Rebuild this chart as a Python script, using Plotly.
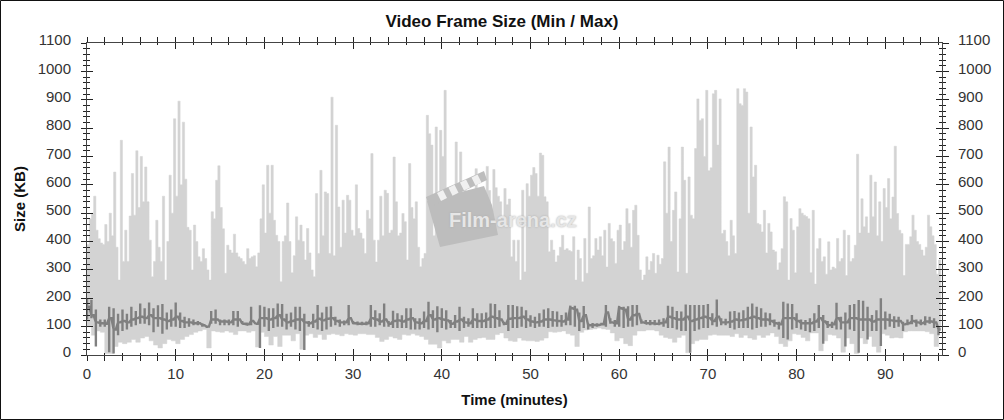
import plotly.graph_objects as go

TITLE = "Video Frame Size (Min / Max)"
X_TITLE = "Time (minutes)"
Y_TITLE = "Size (KB)"
WATERMARK = "Film-arena.cz"

# upper edge of the light band, one reading per quarter minute
size_max = [
    390,480,500,560,440,410,395,390,460,400,500,420,645,380,264,757,330,440,330,490,
    640,493,720,520,700,540,663,540,405,276,330,475,380,330,560,264,400,634,500,833,
    560,895,600,821,620,450,440,300,458,400,346,330,375,340,300,264,505,480,616,667,
    520,445,288,387,370,360,426,360,346,340,330,320,375,340,346,350,311,360,480,600,
    430,669,500,669,475,422,400,258,400,420,536,400,290,350,487,405,458,400,335,446,
    360,300,276,569,358,651,420,575,569,358,909,350,810,522,380,546,430,563,546,440,
    420,600,446,430,410,358,510,480,710,405,328,405,560,420,581,570,430,440,698,540,
    420,430,499,470,335,675,520,480,540,380,311,340,358,845,780,740,420,804,560,792,
    700,933,590,550,500,430,751,590,716,520,580,520,581,560,570,657,560,540,530,510,
    665,580,470,654,590,560,540,480,587,530,550,346,405,330,405,264,581,293,604,560,
    634,661,640,560,712,704,558,540,364,405,370,328,350,380,422,370,375,368,365,417,
    264,370,340,258,411,288,522,340,350,411,370,417,350,440,310,464,410,400,323,440,
    458,370,400,516,464,380,510,528,422,300,264,282,346,300,330,358,288,352,320,340,
    681,500,733,400,510,575,293,480,733,616,288,628,493,480,728,903,827,833,700,933,
    650,660,921,933,740,903,428,440,400,350,475,420,358,939,886,880,939,927,500,804,
    628,669,464,460,434,510,360,464,434,370,364,300,325,375,558,540,264,481,440,290,
    452,516,500,493,488,480,290,510,250,375,411,330,346,285,399,300,310,305,411,330,
    340,440,280,422,330,340,387,708,430,551,452,487,430,634,487,610,420,540,400,587,
    520,622,480,557,736,499,440,428,280,390,390,417,493,440,400,390,370,350,380,493,
    452,420,390,285,335,90,
]

# lower edge of the light band, one reading per half minute
size_low = [
    100,100,70,85,80,5,5,30,45,40,
    45,55,45,60,65,50,35,25,40,55,
    50,40,55,65,72,80,85,90,25,85,
    82,80,85,80,72,85,85,80,85,28,
    80,65,35,65,30,70,70,50,75,20,
    70,75,62,72,55,72,75,72,68,75,
    72,70,75,75,72,72,62,48,55,65,
    60,55,72,70,75,70,65,55,38,38,
    25,50,42,55,55,45,65,45,55,60,
    62,55,55,72,78,60,50,48,60,52,
    50,50,48,52,60,82,80,82,85,75,
    70,30,80,88,90,92,95,92,90,78,
    50,60,40,33,70,85,85,88,88,85,
    70,62,58,45,62,70,8,40,50,55,
    55,70,72,70,70,70,65,75,62,70,
    60,55,70,62,70,78,65,40,30,50,
    75,72,62,50,78,78,15,50,72,70,
    60,10,60,40,5,60,40,65,30,10,
    75,70,60,62,60,82,85,85,85,85,
    82,75,30,
]

# dark line: top of its spikes, bottom of its spikes and its usual level, per half minute
dark_hi = [
    200,195,160,125,125,170,165,145,160,145,
    170,155,182,165,185,165,175,180,150,160,
    185,150,135,130,125,120,112,102,155,160,
    125,125,125,155,155,120,115,170,115,175,
    170,165,165,182,180,145,150,170,170,145,
    120,145,176,150,170,172,135,125,122,176,
    120,118,117,118,176,158,147,182,120,156,
    147,140,165,165,130,130,153,188,158,172,
    165,158,123,141,170,135,130,165,147,147,
    150,182,180,158,117,176,176,172,170,158,
    140,135,147,160,165,155,153,141,150,174,
    174,150,173,112,113,112,114,176,130,123,
    173,170,172,176,176,125,123,123,123,125,
    130,174,170,155,153,178,176,176,176,176,
    180,147,196,130,128,153,155,150,158,170,
    182,170,165,150,147,125,117,188,182,180,
    147,125,123,130,147,176,141,120,117,184,
    135,150,176,180,194,191,170,141,158,200,
    153,145,137,135,117,125,141,125,125,137,
    135,130,100,
]
dark_lo = [
    125,130,30,100,100,10,5,70,85,90,
    100,105,110,110,105,80,100,75,90,100,
    100,95,95,100,105,105,100,95,110,110,
    105,105,105,105,100,108,105,105,108,25,
    100,85,95,100,100,90,100,90,85,18,
    100,95,90,85,90,100,105,100,105,105,
    108,105,105,105,100,100,105,100,100,95,
    95,95,95,90,90,90,95,90,95,80,
    95,90,95,95,85,95,100,95,95,95,
    95,95,95,100,105,85,95,95,100,95,
    100,95,100,100,95,100,100,100,105,105,
    100,85,95,90,95,100,105,100,110,100,
    100,95,100,100,105,110,110,105,105,105,
    100,95,95,90,85,85,8,85,90,95,
    95,105,100,105,105,95,90,95,95,95,
    90,95,100,100,105,100,90,60,55,90,
    95,90,85,80,85,95,40,95,95,90,
    90,30,90,85,8,85,55,85,85,32,
    90,100,95,100,85,105,108,100,105,105,
    110,95,70,
]
dark_core = [
    170,140,115,112,110,130,90,115,120,115,
    125,130,135,130,140,130,130,125,120,125,
    135,120,115,115,112,112,105,100,125,125,
    118,118,115,125,125,110,108,120,110,130,
    130,125,130,140,125,115,120,125,125,115,
    112,118,128,122,128,130,120,115,115,130,
    112,110,110,112,130,125,118,125,110,120,
    122,118,125,130,115,112,120,140,125,130,
    125,122,110,118,125,115,112,125,120,120,
    125,135,130,125,110,128,130,130,135,125,
    118,115,118,125,125,122,120,118,125,165,
    160,120,140,105,106,106,108,150,115,112,
    165,160,125,140,145,115,112,112,110,112,
    115,135,130,125,125,135,120,125,130,135,
    130,120,135,115,115,118,125,122,125,130,
    135,130,125,125,120,112,108,130,130,130,
    120,112,112,112,118,130,118,105,108,130,
    115,115,130,130,125,125,125,118,125,125,
    125,122,120,120,108,112,120,115,112,118,
    118,115,90,
]

time_q = [i / 4 for i in range(len(size_max))]
time_h = [i / 2 for i in range(len(size_low))]

# the dark line walks along its usual level and makes one spike up and down per reading
dark_x, dark_y = [], []
for t, lo, hi, core in zip(time_h, dark_lo, dark_hi, dark_core):
    dark_x += [t, t, t, t, t + 0.25]
    dark_y += [core, hi, lo, core, core]

W, H = 1004, 420
L, R, T, B = 87, 62, 43, 65
PW, PH = W - L - R, H - T - B
XMAX = 855 / 8.87
GREY = "#d3d3d3"
DARK = "#808080"
INK = "#333333"
FONT = "Liberation Sans, Arial, sans-serif"


def px(x):
    return (x - L) / PW


def py(y):
    return 1 - (y - T) / PH


def poly(points):
    return "M " + " L ".join(f"{px(a):.5f},{py(b):.5f}" for a, b in points) + " Z"


fig = go.Figure()
fig.add_trace(go.Scatter(
    x=time_q + time_h[::-1], y=size_max + size_low[::-1],
    fill="toself", fillcolor=GREY, mode="lines",
    line=dict(color=GREY, width=0.5, shape="hv"), hoverinfo="skip", showlegend=False,
))
fig.add_trace(go.Scatter(
    x=dark_x, y=dark_y, mode="lines",
    line=dict(color=DARK, width=2.4), hoverinfo="skip", showlegend=False,
))
for xa, ya in (("x", "y2"), ("x2", "y3")):
    fig.add_trace(go.Scatter(x=[None], y=[None], xaxis=xa, yaxis=ya,
                             showlegend=False, hoverinfo="skip"))

x_common = dict(range=[0, XMAX], dtick=10, tick0=0, showgrid=False, zeroline=False,
                showline=True, linecolor="#444444", linewidth=1, tickcolor="#222222")
y_common = dict(range=[0, 1100], dtick=100, tick0=0, showgrid=False, zeroline=False,
                showline=True, linecolor="#444444", linewidth=1, tickcolor="#222222")
tfont = dict(family=FONT, size=15, color=INK)

fig.update_layout(
    width=W, height=H, autosize=False,
    margin=dict(l=L, r=R, t=T, b=B, pad=0),
    paper_bgcolor="white", plot_bgcolor="white", showlegend=False,
    title=dict(text=f"<b>{TITLE}</b>", x=502 / W, xanchor="center", y=1 - 21 / H,
               yanchor="middle", font=dict(family=FONT, size=17, color="#111111")),
    xaxis=dict(**x_common, ticks="outside", ticklen=5, mirror="allticks",
               minor=dict(dtick=2, ticks="outside", ticklen=3, tickcolor="#222222"),
               tickfont=tfont, ticklabelstandoff=0,
               title=dict(text=f"<b>{X_TITLE}</b>", standoff=13,
                          font=dict(family=FONT, size=15, color="#111111"))),
    xaxis2=dict(**x_common, overlaying="x", anchor="y", side="bottom", ticks="inside",
                ticklen=6, mirror="allticks", showticklabels=False,
                minor=dict(dtick=2, ticks="inside", ticklen=2, tickcolor="#222222")),
    yaxis=dict(**y_common, ticks="outside", ticklen=5,
               minor=dict(dtick=20, ticks="outside", ticklen=3, tickcolor="#222222"),
               tickfont=tfont, ticklabelstandoff=7, ticklabelshift=-3,
               title=dict(text=f"<b>{Y_TITLE}</b>", standoff=8,
                          font=dict(family=FONT, size=15, color="#111111"))),
    yaxis2=dict(**y_common, overlaying="y", anchor="x", side="right", ticks="outside",
                ticklen=6, minor=dict(dtick=20, ticks="outside", ticklen=3, tickcolor="#222222"),
                tickfont=tfont, ticklabelstandoff=6, ticklabelshift=-3),
    yaxis3=dict(**y_common, overlaying="y", anchor="x2", side="left", ticks="inside",
                ticklen=6, mirror="allticks", showticklabels=False,
                minor=dict(dtick=20, ticks="inside", ticklen=3, tickcolor="#222222")),
)

# page frame
shapes = [dict(type="rect", xref="paper", yref="paper", x0=px(0.5), x1=px(W - 0.5),
               y0=py(H - 0.5), y1=py(0.5), line=dict(color="#111111", width=1))]
# clapboard of the watermark
WM = "#bdbdbd"
shapes.append(dict(type="path", xref="paper", yref="paper", layer="above",
                   path=poly([(427, 201), (484, 186), (492, 205), (498, 235), (440, 247)]),
                   fillcolor=WM, line=dict(width=0)))
shapes.append(dict(type="path", xref="paper", yref="paper", layer="above",
                   path=poly([(426, 197), (484, 171), (487, 180), (430, 207)]),
                   fillcolor=WM, line=dict(width=0)))
for k in range(4):
    a = 437 + k * 11.5
    b = 193 - k * 5.2
    shapes.append(dict(type="path", xref="paper", yref="paper", layer="above",
                       path=poly([(a, b), (a + 6, b - 3), (a + 10, b + 5), (a + 4, b + 8)]),
                       fillcolor="#f0f0f0", line=dict(width=0)))
fig.update_layout(shapes=shapes)
fig.add_annotation(text=f"<b>{WATERMARK}</b>", xref="paper", yref="paper",
                   x=px(513), y=py(220), xanchor="center", yanchor="middle", showarrow=False,
                   font=dict(family=FONT, size=20, color="#e6e6e6", shadow="0 0 2px #aaaaaa"))

fig.write_html("out.html", config=dict(displayModeBar=False),
               post_script="document.body.style.margin='0';")
